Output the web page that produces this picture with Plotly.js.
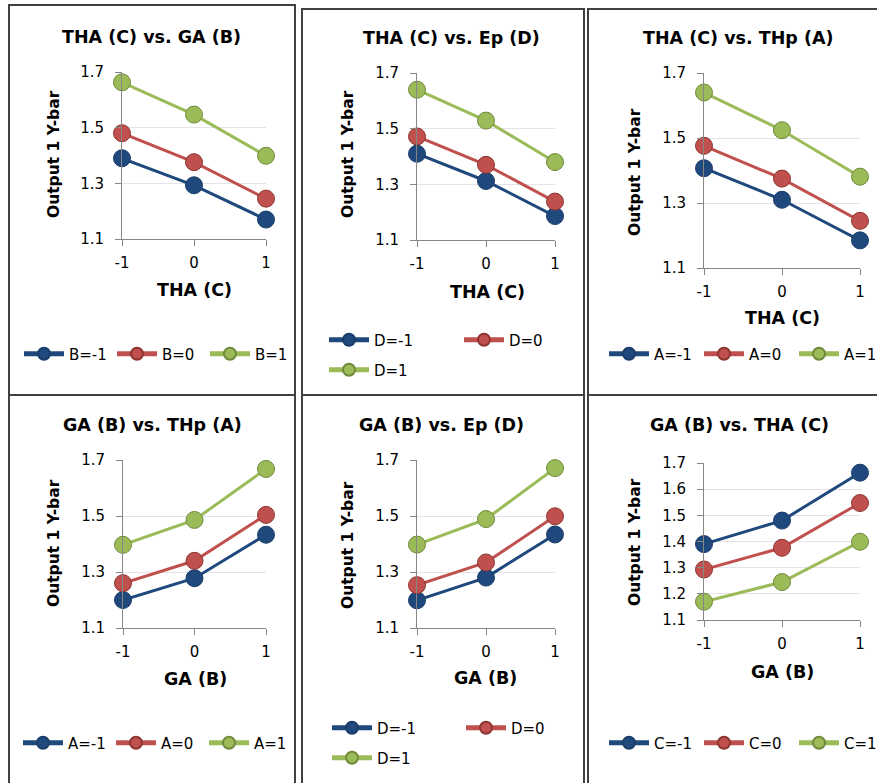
<!DOCTYPE html>
<html>
<head>
<meta charset="utf-8">
<script src="https://cdn.plot.ly/plotly-3.0.1.min.js"></script>
<style>html,body{margin:0;padding:0;background:#fff;overflow:hidden;}#chart{width:877px;height:783px;}</style>
</head>
<body>
<div id="chart"></div>
<script>
// ---- data ----
var levels = [-1, 0, 1];
var tickLabels = ['-1', '0', '1'];

// Panel 1: THA (C) vs. GA (B)  (x = C, series = B)
var p1_B_m1 = [1.390, 1.293, 1.170];
var p1_B_0  = [1.480, 1.376, 1.245];
var p1_B_1  = [1.663, 1.547, 1.399];
// Panel 2: THA (C) vs. Ep (D)
var p2_D_m1 = [1.410, 1.312, 1.186];
var p2_D_0  = [1.472, 1.370, 1.238];
var p2_D_1  = [1.640, 1.529, 1.380];
// Panel 3: THA (C) vs. THp (A)
var p3_A_m1 = [1.407, 1.310, 1.185];
var p3_A_0  = [1.476, 1.375, 1.245];
var p3_A_1  = [1.640, 1.524, 1.381];
// Panel 4: GA (B) vs. THp (A)
var p4_A_m1 = [1.200, 1.278, 1.433];
var p4_A_0  = [1.260, 1.340, 1.504];
var p4_A_1  = [1.397, 1.486, 1.668];
// Panel 5: GA (B) vs. Ep (D)
var p5_D_m1 = [1.199, 1.280, 1.434];
var p5_D_0  = [1.253, 1.334, 1.499];
var p5_D_1  = [1.398, 1.489, 1.671];
// Panel 6: GA (B) vs. THA (C)
var p6_C_m1 = [1.390, 1.480, 1.663];
var p6_C_0  = [1.293, 1.376, 1.547];
var p6_C_1  = [1.170, 1.245, 1.399];

var panelTitles = ['THA (C) vs. GA (B)', 'THA (C) vs. Ep (D)', 'THA (C) vs. THp (A)',
                   'GA (B) vs. THp (A)', 'GA (B) vs. Ep (D)', 'GA (B) vs. THA (C)'];
var xTitles = ['THA (C)', 'THA (C)', 'THA (C)', 'GA (B)', 'GA (B)', 'GA (B)'];
var yTitle = 'Output 1 Y-bar';

// ---- styling ----
var W = 877, H = 783;
function fx(p){ return p / W; }
function fy(p){ return 1 - p / H; }
var FONT = 'DejaVu Sans, Verdana, sans-serif';
var BLUE = '#1F497D', RED = '#C0504D', GREEN = '#9BBB59';
var styles = [
  {c: BLUE,  b: '#1A3D6A'},
  {c: RED,   b: '#8E3532'},
  {c: GREEN, b: '#6F8A3A'}
];

var panels = [
  {series: [p1_B_m1, p1_B_0, p1_B_1], names: ['B=-1','B=0','B=1'], dom: [122,266,72,239], dtick: 0.2},
  {series: [p2_D_m1, p2_D_0, p2_D_1], names: ['D=-1','D=0','D=1'], dom: [417,555,73,240], dtick: 0.2},
  {series: [p3_A_m1, p3_A_0, p3_A_1], names: ['A=-1','A=0','A=1'], dom: [704,860,73,268], dtick: 0.2},
  {series: [p4_A_m1, p4_A_0, p4_A_1], names: ['A=-1','A=0','A=1'], dom: [123,266,460,628], dtick: 0.2},
  {series: [p5_D_m1, p5_D_0, p5_D_1], names: ['D=-1','D=0','D=1'], dom: [417,555,460,628], dtick: 0.2},
  {series: [p6_C_m1, p6_C_0, p6_C_1], names: ['C=-1','C=0','C=1'], dom: [704,860,463,620], dtick: 0.1}
];

// legend assignment per panel / series
var legendOf = [
  ['legend','legend','legend'],
  ['legend2','legend2','legend7'],
  ['legend3','legend3','legend3'],
  ['legend4','legend4','legend4'],
  ['legend5','legend5','legend8'],
  ['legend6','legend6','legend6']
];

var traces = [];
var layout = {
  width: W, height: H,
  margin: {l:0, r:0, t:0, b:0, autoexpand: false},
  paper_bgcolor: '#ffffff', plot_bgcolor: '#ffffff',
  font: {family: FONT, size: 15, color: '#000'},
  showlegend: true,
  annotations: [], shapes: []
};

panels.forEach(function(p, i){
  var k = i + 1;
  var xa = 'x' + (k === 1 ? '' : k), ya = 'y' + (k === 1 ? '' : k);
  p.series.forEach(function(vals, j){
    traces.push({
      type: 'scatter', mode: 'lines+markers',
      x: levels, y: vals, name: p.names[j],
      xaxis: xa, yaxis: ya, legend: legendOf[i][j],
      cliponaxis: false,
      line: {color: styles[j].c, width: 3},
      marker: {symbol: 'circle', size: 17, color: styles[j].c, line: {color: styles[j].b, width: 1}}
    });
  });
  var xKey = 'xaxis' + (k === 1 ? '' : k), yKey = 'yaxis' + (k === 1 ? '' : k);
  layout[xKey] = {
    domain: [fx(p.dom[0]), fx(p.dom[1])], anchor: ya,
    range: [-1, 1], tickvals: levels, ticktext: tickLabels,
    showgrid: false, zeroline: false, showline: true, linecolor: '#868686', linewidth: 1,
    ticks: 'outside', ticklen: 6, tickcolor: '#868686', ticklabelstandoff: 4,
    tickfont: {family: FONT, size: 15, color: '#000'}, fixedrange: true, automargin: false
  };
  layout[yKey] = {
    domain: [fy(p.dom[3]), fy(p.dom[2])], anchor: xa,
    range: [1.1, 1.7], dtick: p.dtick, tick0: 1.1, tickformat: '.1f',
    showgrid: true, gridcolor: '#E3E3E8', gridwidth: 1,
    zeroline: false, showline: true, linecolor: '#868686', linewidth: 1,
    ticks: 'outside', ticklen: 6, tickcolor: '#868686', ticklabelstandoff: 8,
    tickfont: {family: FONT, size: 15, color: '#000'}, fixedrange: true, automargin: false
  };
});

// Titles / axis titles as annotations
var titlePos = [[151,37],[451,38],[738,38],[152,425],[442,425],[739,425]];
var xTitlePos = [[194,290],[487,292],[782,318],[195,679],[485,678],[782,672]];
var yTitlePos = [[54,154],[348,154],[635,172],[54,543],[348,545],[635,542]];
for (var i = 0; i < 6; i++) {
  layout.annotations.push({text: '<b>' + panelTitles[i] + '</b>', xref:'paper', yref:'paper',
    x: fx(titlePos[i][0]), y: fy(titlePos[i][1]), xanchor:'center', yanchor:'middle', showarrow:false,
    font:{family: FONT, size: 17.5, color:'#000'}});
  layout.annotations.push({text: '<b>' + xTitles[i] + '</b>', xref:'paper', yref:'paper',
    x: fx(xTitlePos[i][0]), y: fy(xTitlePos[i][1]), xanchor:'center', yanchor:'middle', showarrow:false,
    font:{family: FONT, size: 17.5, color:'#000'}});
  layout.annotations.push({text: '<b>' + yTitle + '</b>', xref:'paper', yref:'paper', textangle: -90,
    x: fx(yTitlePos[i][0]), y: fy(yTitlePos[i][1]), xanchor:'center', yanchor:'middle', showarrow:false,
    font:{family: FONT, size: 15.5, color:'#000'}});
}

// Panel borders
var borders = [[9,5,295,395],[302,9,584,395],[588,9,884,395],[9,395,295,790],[302,395,584,790],[588,395,884,790]];
borders.forEach(function(b){
  layout.shapes.push({type:'rect', xref:'paper', yref:'paper', x0: fx(b[0]), x1: fx(b[2]), y0: fy(b[3]), y1: fy(b[1]),
    line:{color:'#404040', width:2}, fillcolor:'rgba(0,0,0,0)', layer:'above'});
});

// Legends
function leg(xpx, ypx, ew){
  return {orientation:'h', x: fx(xpx), y: fy(ypx), xanchor:'left', yanchor:'middle',
    bgcolor:'rgba(0,0,0,0)', borderwidth:0, itemsizing:'constant', itemwidth: 40,
    entrywidth: ew, entrywidthmode:'pixels', traceorder:'normal',
    font:{family: FONT, size: 15, color:'#000'}, itemclick:false, itemdoubleclick:false};
}
layout.legend  = leg(19, 354, 38);
layout.legend2 = leg(324, 340, 80);
layout.legend7 = leg(324, 370, 80);
layout.legend3 = leg(604, 354, 40);
layout.legend4 = leg(18, 743, 38);
layout.legend5 = leg(327, 728, 79);
layout.legend8 = leg(327, 758, 79);
layout.legend6 = leg(604, 743, 40);

Plotly.newPlot('chart', traces, layout, {displayModeBar:false, staticPlot:true});
</script>
</body>
</html>
